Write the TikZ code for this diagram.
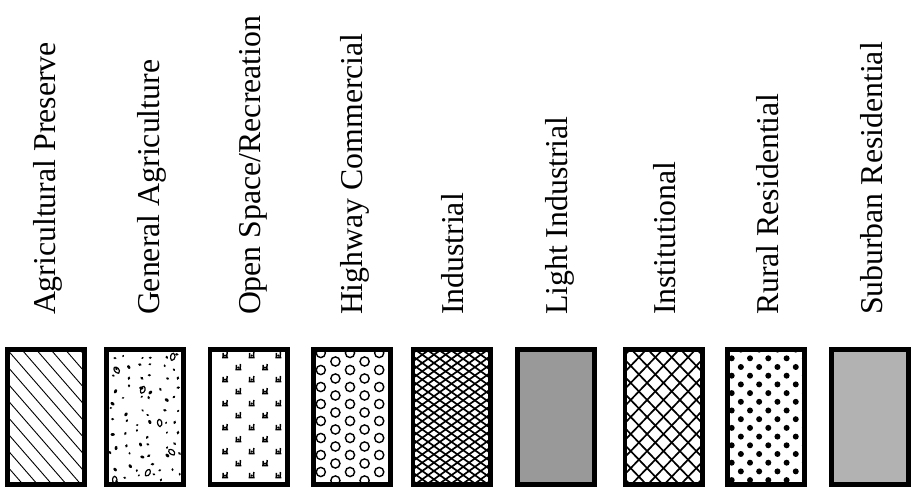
\documentclass[tikz,border=0pt]{standalone}
\usepackage{fontspec}
\setmainfont{Liberation Serif}
\begin{document}
\begin{tikzpicture}[x=1pt,y=1pt,
  lbl/.style={rotate=90, anchor=base west, inner sep=0pt, outer sep=0pt,
              font=\fontsize{31.8}{36}\selectfont},
  swatch/.style={draw=black, line width=4.6pt, minimum width=77.4pt,
                 minimum height=135.4pt, inner sep=0pt, outer sep=0pt},
  hatch/.style={line width=0.9pt},
  mesh/.style={line width=1.7pt},
  ring/.style={line width=1.4pt},
  tuft/.pic={
    \draw[line width=1.5pt] (-3,-2.6) -- (3,-2.6)
                            (-2,-2.6) -- (-2,2)
                            (1.8,-3.2) -- (2.1,3);
    \fill (0,-0.6) circle (1.2);
  }]
\useasboundingbox (0,0) rectangle (921,497);

% ---------- labels ----------
\node[lbl] (t1) at (55,182)  {Agricultural Preserve};
\node[lbl] (t2) at (159,182) {General Agriculture};
\node[lbl] (t3) at (260,182) {Open Space/Recreation};
\node[lbl] (t4) at (362,182) {Highway Commercial};
\node[lbl] (t5) at (463,182) {Industrial};
\node[lbl] (t6) at (567,182) {Light Industrial};
\node[lbl] (t7) at (675,182) {Institutional};
\node[lbl] (t8) at (778,182) {Rural Residential};
\node[lbl] (t9) at (882,182) {Suburban Residential};

% ---------- Agricultural Preserve: single diagonal hatch ----------
\begin{scope}
  \clip (46-38.7,80-67.7) rectangle (46+38.7,80+67.7);
  \foreach \k in {-10,...,6}
    \draw[hatch] (46-41+\k*14.5,150) -- ++(170,-195.5);
\end{scope}
\node[swatch] (s1) at (46,80) {};

% ---------- General Agriculture: scattered specks on a jittered grid ----------
\begin{scope}
  \clip (145-38.7,80-67.7) rectangle (145+38.7,80+67.7);
  \pgfmathsetseed{4711}
  \foreach \c in {0,...,5}
    \foreach \r in {0,...,11}{
      \pgfmathsetmacro\px{145-31+12.4*\c+8*rnd-4}
      \pgfmathsetmacro\py{80-61+11.1*\r+8*rnd-4}
      \pgfmathsetmacro\pa{180*rnd}
      \pgfmathsetmacro\pr{1.3+0.9*rnd}
      \fill[shift={(\px,\py)},rotate=\pa] (0,0) ellipse ({\pr} and {0.7*\pr});
    }
  \foreach \bx/\by/\ba in {28/60/20, -28/47/70, -2/27/10, 15/-6/40,
                           27/-35/80, 3/-56/0, -30/-63/30}
    \draw[line width=1.2pt,shift={(145+\bx,80+\by)},rotate=\ba,scale=1.3]
      (-2,-2.2) .. controls (-2.6,1) and (-0.5,3) .. (1.2,2.6)
      .. controls (2.6,1.4) and (1.6,-2.8) .. (-2,-2.2);
\end{scope}
\node[swatch] (s2) at (145,80) {};

% ---------- Open Space/Recreation: grass tufts ----------
\begin{scope}
  \clip (248.5-38.7,80-67.7) rectangle (248.5+38.7,80+67.7);
  \foreach \r in {0,...,10}{
    \pgfmathsetmacro\ty{80+62-12*\r}
    \ifodd\r
      \foreach \tx in {-10.2,16.5} \pic at (248.5+\tx,\ty) {tuft};
    \else
      \foreach \tx in {-23.5,3.2,29.8} \pic at (248.5+\tx,\ty) {tuft};
    \fi
  }
\end{scope}
\node[swatch] (s3) at (248.5,80) {};

% ---------- Highway Commercial: small rings ----------
\begin{scope}
  \clip (352-38.7,80-67.7) rectangle (352+38.7,80+67.7);
  \foreach \j in {-3,...,3}
    \foreach \k in {-8,...,2}{
      \pgfmathsetmacro\ox{350+14.6*\j}
      \pgfmathsetmacro\oy{127+8.5*mod(abs(\j),2)+17*\k}
      \draw[ring] (\ox,\oy) circle (4.6);
    }
\end{scope}
\node[swatch] (s4) at (352,80) {};

% ---------- Industrial: dense diamond mesh ----------
\begin{scope}
  \clip (451.5-38.7,80-67.7) rectangle (451.5+38.7,80+67.7);
  \foreach \k in {-13,...,13}{
    \draw[mesh] (451.5+\k*11.7-150,80-150*0.71) -- ++(300,300*0.71);
    \draw[mesh] (451.5+\k*11.7-150,80+150*0.71) -- ++(300,-300*0.71);
  }
\end{scope}
\node[swatch] (s5) at (451.5,80) {};

% ---------- Light Industrial: dark stipple tone ----------
\node[swatch, fill=black!40] (s6) at (556,80) {};

% ---------- Institutional: open diamond mesh ----------
\begin{scope}
  \clip (663.5-38.7,80-67.7) rectangle (663.5+38.7,80+67.7);
  \foreach \k in {-10,...,10}{
    \draw[mesh] (663.5+\k*16.4-120,80-120*1.04) -- ++(240,240*1.04);
    \draw[mesh] (663.5+\k*16.4-120,80+120*1.04) -- ++(240,-240*1.04);
  }
\end{scope}
\node[swatch] (s7) at (663.5,80) {};

% ---------- Rural Residential: black dots ----------
\begin{scope}
  \clip (766-38.7,80-67.7) rectangle (766+38.7,80+67.7);
  \foreach \r in {-1,...,16}
    \foreach \j in {-1,...,9}{
      \pgfmathtruncatemacro\dotpar{mod(abs(\r+\j),2)}
      \ifnum\dotpar=0
        \fill (731.7+9.15*\j,80+58.7-8.7*\r) circle (3);
      \fi
    }
\end{scope}
\node[swatch] (s8) at (766,80) {};

% ---------- Suburban Residential: light stipple tone ----------
\node[swatch, fill=black!30] (s9) at (870,80) {};

\end{tikzpicture}
\end{document}
